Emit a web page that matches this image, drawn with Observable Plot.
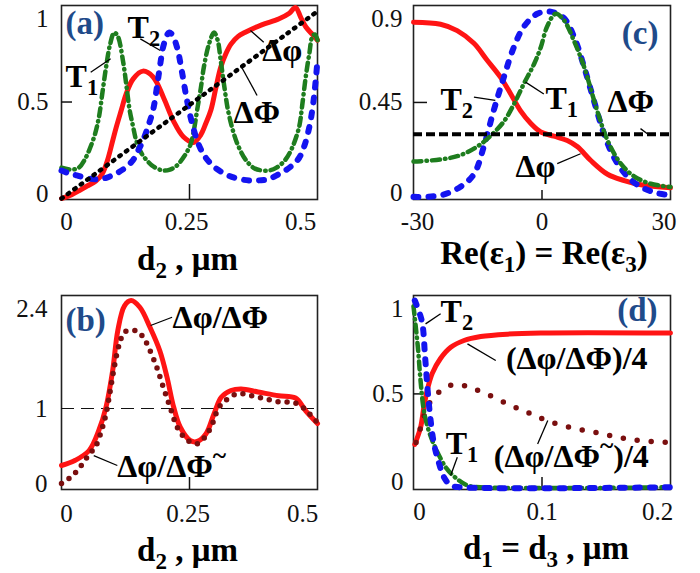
<!DOCTYPE html>
<html><head><meta charset="utf-8">
<script src="https://cdn.jsdelivr.net/npm/d3@7"></script>
<script src="https://cdn.jsdelivr.net/npm/@observablehq/plot@0.6"></script>
<style>
html,body{margin:0;padding:0;background:#fff}
#wrap{position:relative;width:700px;height:573px;overflow:hidden;background:#fff}
.p{position:absolute}
#wrap svg, #wrap svg text, #wrap svg tspan{font-family:"Liberation Serif","Times New Roman",Times,serif !important}
</style></head><body>
<div id="wrap">
  <div class="p" id="pa" style="left:0;top:0;width:340px;height:280px"></div>
  <div class="p" id="pb" style="left:0;top:280px;width:340px;height:293px"></div>
  <div class="p" id="pc" style="left:340px;top:0;width:360px;height:280px"></div>
  <div class="p" id="pd" style="left:340px;top:280px;width:360px;height:293px"></div>
</div>
<script>
// ---------- DATA ----------
// Panel (a): x = d2 (µm)
const aDphi = [[0,0],[0.02,0.02],[0.034,0.04],[0.05,0.065],[0.067,0.09],[0.08,0.13],[0.09,0.2],[0.1,0.3],[0.107,0.37],[0.117,0.46],[0.126,0.54],[0.14,0.62],[0.159,0.66],[0.179,0.63],[0.199,0.525],[0.219,0.40],[0.238,0.32],[0.258,0.29],[0.272,0.33],[0.282,0.39],[0.292,0.46],[0.302,0.58],[0.311,0.68],[0.321,0.75],[0.331,0.80],[0.345,0.84],[0.358,0.86],[0.391,0.90],[0.424,0.93],[0.445,0.96],[0.457,0.99],[0.467,0.94],[0.477,0.89],[0.49,0.85],[0.5,0.82]];
const aT1 = [[0,0.16],[0.02,0.15],[0.034,0.16],[0.045,0.2],[0.054,0.25],[0.065,0.33],[0.073,0.42],[0.08,0.55],[0.087,0.68],[0.095,0.8],[0.103,0.86],[0.11,0.84],[0.12,0.715],[0.127,0.58],[0.133,0.46],[0.14,0.37],[0.146,0.30],[0.155,0.24],[0.166,0.20],[0.18,0.165],[0.199,0.145],[0.212,0.15],[0.225,0.17],[0.24,0.22],[0.252,0.28],[0.259,0.36],[0.265,0.46],[0.272,0.57],[0.278,0.68],[0.288,0.8],[0.298,0.86],[0.305,0.82],[0.311,0.715],[0.318,0.58],[0.325,0.46],[0.334,0.36],[0.344,0.28],[0.36,0.2],[0.378,0.155],[0.404,0.145],[0.42,0.16],[0.437,0.20],[0.45,0.26],[0.464,0.37],[0.47,0.48],[0.477,0.63],[0.484,0.75],[0.49,0.84],[0.495,0.85],[0.5,0.82]];
const aT2 = [[0,0.145],[0.015,0.13],[0.03,0.12],[0.05,0.105],[0.073,0.10],[0.09,0.11],[0.107,0.13],[0.125,0.16],[0.14,0.20],[0.15,0.25],[0.159,0.30],[0.17,0.38],[0.179,0.46],[0.186,0.57],[0.192,0.68],[0.2,0.8],[0.21,0.86],[0.216,0.85],[0.226,0.78],[0.235,0.66],[0.245,0.51],[0.255,0.39],[0.265,0.30],[0.275,0.24],[0.285,0.20],[0.3,0.16],[0.325,0.12],[0.35,0.10],[0.371,0.093],[0.39,0.095],[0.404,0.10],[0.42,0.12],[0.437,0.145],[0.452,0.175],[0.464,0.21],[0.474,0.27],[0.484,0.37],[0.492,0.5],[0.5,0.715]];
const aDPhi = [[0,0],[0.25,0.485],[0.5,0.97]];
const aXTicks = [0, 0.25, 0.5];
const aYTicks = [0, 0.5, 1];

// Panel (b): x = d2 (µm)
const bRatio = [[0,0.24],[0.027,0.31],[0.054,0.44],[0.073,0.71],[0.087,1.02],[0.1,1.51],[0.11,2.04],[0.123,2.37],[0.136,2.44],[0.153,2.35],[0.173,2.08],[0.192,1.77],[0.206,1.42],[0.219,1.02],[0.232,0.75],[0.252,0.57],[0.265,0.56],[0.282,0.66],[0.298,0.93],[0.312,1.15],[0.331,1.24],[0.351,1.26],[0.384,1.22],[0.424,1.17],[0.457,1.14],[0.477,0.97],[0.5,0.80]];
const bRatioT = [[0,0],[0.015,0.07],[0.032,0.18],[0.052,0.37],[0.067,0.5],[0.08,0.75],[0.087,0.93],[0.094,1.19],[0.103,1.55],[0.113,1.86],[0.123,2.02],[0.136,2.04],[0.149,2.03],[0.163,1.91],[0.173,1.77],[0.186,1.55],[0.199,1.28],[0.212,1.02],[0.226,0.75],[0.239,0.62],[0.252,0.55],[0.265,0.53],[0.278,0.6],[0.292,0.75],[0.308,1.02],[0.325,1.13],[0.345,1.2],[0.371,1.17],[0.398,1.13],[0.424,1.09],[0.454,1.08],[0.474,1.0],[0.487,0.91],[0.5,0.81]];
const bRef = 1;
const bXTicks = [0, 0.25, 0.5];
const bYTicks = [0, 1, 2.4];

// Panel (c): x = Re(eps1) = Re(eps3)
const cDphi = [[-30,0.83],[-23.7,0.82],[-19.8,0.79],[-15.9,0.73],[-12.8,0.65],[-9.7,0.57],[-7.3,0.49],[-5,0.41],[-2.6,0.35],[-0.3,0.31],[2.8,0.29],[5.9,0.27],[8.3,0.24],[11.4,0.175],[15.3,0.11],[19.2,0.08],[23.1,0.06],[30,0.046]];
const cT2 = [[-30,0.003],[-23.7,0.01],[-19.1,0.05],[-15.9,0.11],[-13.6,0.24],[-11.3,0.41],[-8.9,0.57],[-6.6,0.71],[-4.2,0.81],[-1.1,0.87],[2,0.88],[5.1,0.85],[7.5,0.76],[9.8,0.62],[12.1,0.46],[14.5,0.30],[16.8,0.19],[19.9,0.10],[23.1,0.05],[27,0.02],[30,0.012]];
const cT1 = [[-30,0.17],[-23.7,0.18],[-19.1,0.20],[-15.2,0.24],[-12.1,0.29],[-8.9,0.36],[-6.6,0.44],[-4.2,0.54],[-1.9,0.63],[-0.3,0.71],[1.2,0.81],[3.2,0.87],[5.1,0.84],[7.5,0.74],[9.8,0.62],[12.9,0.41],[15.3,0.27],[18.4,0.16],[21.5,0.10],[25.4,0.065],[30,0.05]];
const cDPhi = 0.30;
const cXTicks = [-30, 0, 30];
const cYTicks = [0, 0.45, 0.9];

// Panel (d): x = d1 = d3 (µm)
const dRatio = [[0.001,0.23],[0.0055,0.32],[0.0081,0.43],[0.0107,0.52],[0.0146,0.61],[0.021,0.69],[0.029,0.75],[0.0393,0.786],[0.0523,0.807],[0.073,0.82],[0.099,0.826],[0.2,0.826]];
const dRatioT = [[0.002,0.24],[0.0065,0.34],[0.0107,0.43],[0.017,0.49],[0.026,0.54],[0.0352,0.55],[0.0456,0.53],[0.057,0.50],[0.073,0.447],[0.089,0.40],[0.104,0.357],[0.122,0.32],[0.141,0.295],[0.159,0.268],[0.177,0.25],[0.198,0.24]];
const dT2 = [[0.001,1.0],[0.0065,0.89],[0.009,0.70],[0.011,0.52],[0.0133,0.36],[0.016,0.23],[0.02,0.125],[0.0237,0.054],[0.029,0.01],[0.037,0],[0.2,0]];
const dT1 = [[0,0.97],[0.0034,0.75],[0.0055,0.57],[0.0081,0.41],[0.012,0.30],[0.018,0.197],[0.026,0.098],[0.034,0.044],[0.042,0.01],[0.052,0],[0.2,0]];
const dXTicks = [0, 0.1, 0.2];
const dYTicks = [0, 0.5, 1];

// Texts
const panelNames = ["(a)", "(b)", "(c)", "(d)"];
const xTitles = ["d_2 , μm", "d_2 , μm", "Re(ε_1) = Re(ε_3)", "d_1 = d_3 , μm"];

// ---------- ANNOTATIONS (label anchors in data units) ----------
const notesA = [{t:"T_2",x:0.129,y:0.834},{t:"T_1",x:0.008,y:0.58},{t:"Δφ",x:0.392,y:0.71},{t:"ΔΦ",x:0.336,y:0.39}];
const leadA = [[0.154,0.827,0.193,0.767],[0.057,0.654,0.096,0.724],[0.369,0.87,0.395,0.81],[0.35,0.689,0.382,0.534]];
const notesB = [{t:"Δφ/ΔΦ",x:0.217,y:2.08},{t:"Δφ/ΔΦ^~",x:0.109,y:0.084}];
const leadB = [[0.174,2.107,0.216,2.217],[0.063,0.373,0.109,0.24]];
const notesC = [{t:"T_2",x:-23.7,y:0.412},{t:"T_1",x:0.82,y:0.42},{t:"ΔΦ",x:15.3,y:0.404},{t:"Δφ",x:-6.2,y:0.096}];
const leadC = [[-15.9,0.475,-10.9,0.46],[-3.85,0.546,0.43,0.49],[23.0,0.326,24.6,0.302],[3.55,0.16,9.0,0.207]];
const notesD = [{t:"T_2",x:0.0211,y:0.884},{t:"(Δφ/ΔΦ)/4",x:0.0719,y:0.634},{t:"T_1",x:0.025,y:0.179},{t:"(Δφ/ΔΦ^~)/4",x:0.0625,y:0.107}];
const leadD = [[0.0094,0.875,0.0211,0.929],[0.042,0.768,0.064,0.679],[0.0289,0.063,0.0341,0.161],[0.1045,0.357,0.0966,0.232]];

// ---------- STYLES ----------
const FONT = "Liberation Serif";
const RED = "#ff1414", GREEN = "#1e7d1e", BLUE = "#1414f0", MAROON = "#7a0f0f", PANEL = "#1f4b8a";
const sRed = {stroke: RED, strokeWidth: 5};
const sGreen = {stroke: GREEN, strokeWidth: 4.5, strokeDasharray: "8,5,0.5,5"};
const sBlue = {stroke: BLUE, strokeWidth: 6, strokeDasharray: "5,10"};
const sBlackDot = {stroke: "#000", strokeWidth: 4.5, strokeDasharray: "1.5,6.5"};

const line = (data, o) => Plot.line(data, {x: d => d[0], y: d => d[1], curve: "catmull-rom", strokeLinecap: "round", strokeLinejoin: "round", ...o});
const xLabels = (ticks, dxs, pad) => ticks.map((t, i) => Plot.axisX([t], {tickSize: 0, tickPadding: pad, dx: dxs[i], tickFormat: d => String(d), label: null, fontFamily: FONT}));
const yLabels = (ticks, dys, pad) => ticks.map((t, i) => Plot.axisY([t], {tickSize: 0, tickPadding: pad, dy: dys[i], tickFormat: d => String(d), label: null, fontFamily: FONT}));
const inX = (t, len) => Plot.axisX([t], {tickSize: len, dy: -len, tickFormat: () => "", label: null, strokeWidth: 1.5});
const inY = (t, len) => Plot.axisY([t], {tickSize: len, dx: len, tickFormat: () => "", label: null, strokeWidth: 1.5});
const notes = arr => Plot.text(arr, {x: "x", y: "y", text: "t", textAnchor: "start", lineAnchor: "bottom", fontSize: 32, fontWeight: "bold", fontFamily: FONT, fill: "#000"});
const leaders = arr => Plot.link(arr, {x1: d => d[0], y1: d => d[1], x2: d => d[2], y2: d => d[3], stroke: "#000", strokeWidth: 1.3});
const xTitle = (s, dx, dy) => Plot.text([s], {frameAnchor: "bottom", text: d => d, dx, dy, lineAnchor: "bottom", fontSize: 33, fontWeight: "bold", fontFamily: FONT, fill: "#000"});
const pLabel = (s, anchor, dx, dy) => Plot.text([s], {frameAnchor: anchor, text: d => d, dx, dy, textAnchor: anchor.endsWith("left") ? "start" : "end", lineAnchor: "bottom", fontSize: 33, fontWeight: "bold", fontFamily: FONT, fill: PANEL});
const frame = () => Plot.frame({stroke: "#222", strokeWidth: 1.6});

function richify(svg) {
  const NS = "http://www.w3.org/2000/svg";
  svg.querySelectorAll("text").forEach(t => {
    const s = t.textContent;
    if (!/[_^]/.test(s)) return;
    const fs = parseFloat(getComputedStyle(t).fontSize) || 25;
    const segs = [];
    for (let i = 0; i < s.length; i++) {
      const c = s[i];
      if ((c === "_" || c === "^") && i + 1 < s.length) { segs.push({k: c, v: s[i + 1]}); i++; }
      else if (segs.length && segs[segs.length - 1].k === "") segs[segs.length - 1].v += c;
      else segs.push({k: "", v: c});
    }
    t.textContent = "";
    let shift = 0;
    for (const g of segs) {
      const target = g.k === "_" ? 0.25 * fs : g.k === "^" ? -0.42 * fs : 0;
      const ts = document.createElementNS(NS, "tspan");
      if (target !== shift) ts.setAttribute("dy", (target - shift).toFixed(2));
      shift = target;
      if (g.k) ts.setAttribute("font-size", ((g.k === "_" ? 0.7 : 0.8) * fs).toFixed(1));
      ts.textContent = g.v;
      t.appendChild(ts);
    }
  });
}

function make(id, cfg) {
  const svg = Plot.plot({
    width: cfg.w, height: cfg.h,
    marginLeft: cfg.ml, marginRight: cfg.mr, marginTop: cfg.mt, marginBottom: cfg.mb,
    x: {domain: cfg.xd, label: null},
    y: {domain: cfg.yd, label: null},
    style: {fontFamily: FONT, fontSize: "25px", color: "#111", background: "transparent", overflow: "visible"},
    marks: cfg.marks
  });
  document.getElementById(id).appendChild(svg);
  richify(svg);
}

// ---------- PANELS ----------
make("pa", {w: 340, h: 280, ml: 61, mr: 23, mt: 5, mb: 81, xd: [0, 0.5], yd: [-0.005, 1.0], marks: [
  frame(),
  xLabels(aXTicks, [5, -3, -17], 13), yLabels(aYTicks, [-5, 0, 13], 13),
  inX(0.25, 15), inY(0.5, 11),
  line(aDphi, sRed), line(aT1, sGreen), line(aT2, sBlue), line(aDPhi, sBlackDot),
  leaders(leadA), notes(notesA),
  pLabel(panelNames[0], "top-left", 4, 28),
  xTitle(xTitles[0], -2, 70)
]});

make("pb", {w: 340, h: 293, ml: 61, mr: 23, mt: 15, mb: 84, xd: [0, 0.5], yd: [-0.08, 2.507], marks: [
  frame(),
  Plot.ruleY([bRef], {stroke: "#111", strokeWidth: 1.2, strokeDasharray: "13,7"}),
  xLabels(bXTicks, [5, -1.5, -15], 15), yLabels(bYTicks, [0, 0, 5], 14),
  inX(0.25, 12),
  line(bRatio, sRed),
  line(bRatioT, {stroke: MAROON, strokeWidth: 5.5, strokeDasharray: "0,9"}),
  leaders(leadB), notes(notesB),
  pLabel(panelNames[1], "top-left", 4, 35),
  xTitle(xTitles[1], -2, 71)
]});

make("pc", {w: 360, h: 280, ml: 73, mr: 30, mt: 5, mb: 81, xd: [-30, 30], yd: [-0.0095, 0.909], marks: [
  frame(),
  xLabels(cXTicks, [4, 0, -6.5], 13), yLabels(cYTicks, [-4, 0, 12], 11),
  inX(0, 9), inY(0.45, 14),
  line(cDphi, sRed), line(cT2, sBlue), line(cT1, sGreen),
  Plot.ruleY([cDPhi], {stroke: "#000", strokeWidth: 4, strokeDasharray: "9,4"}),
  leaders(leadC), notes(notesC),
  pLabel(panelNames[2], "top-right", -12, 38),
  xTitle(xTitles[2], 2, 64)
]});

make("pd", {w: 360, h: 293, ml: 73, mr: 30, mt: 15, mb: 84, xd: [0, 0.2], yd: [-0.012, 1.027], marks: [
  frame(),
  xLabels(dXTicks, [6, 0, -13], 13), yLabels(dYTicks, [-5, 0, 8], 10),
  inX(0.1, 12), inY(0.5, 10),
  line(dRatio, sRed),
  line(dRatioT, {stroke: MAROON, strokeWidth: 5.5, strokeDasharray: "0,14"}),
  line(dT1, sGreen), line(dT2, sBlue),
  leaders(leadD), notes(notesD),
  pLabel(panelNames[3], "top-right", -13, 25),
  xTitle(xTitles[3], 4, 69)
]});
</script>
</body></html>
